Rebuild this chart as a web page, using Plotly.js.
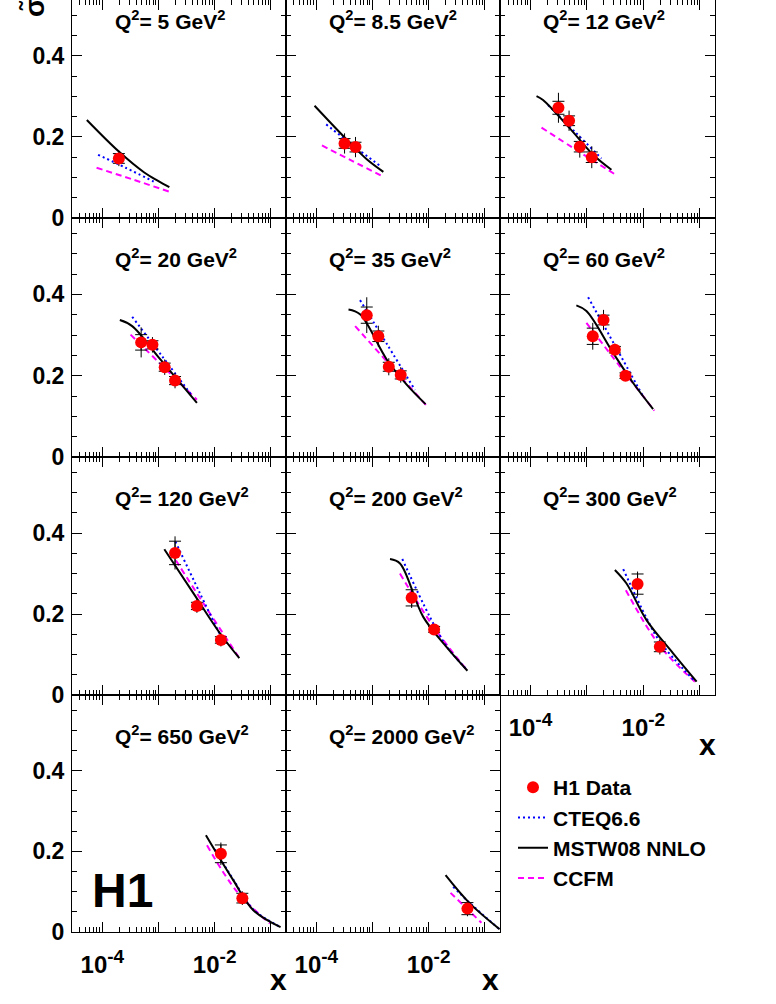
<!DOCTYPE html>
<html>
<head>
<meta charset="utf-8">
<script src="https://cdn.plot.ly/plotly-3.0.1.min.js"></script>
<style>
  body { margin: 0; background: #fff; }
  #plot { width: 776px; height: 1004px; }
</style>
</head>
<body>
<div id="plot"></div>
<script>
// Q2 bins, one panel each
const q2Labels = ['5', '8.5', '12', '20', '35', '60', '120', '200', '300', '650', '2000'];

// H1 data points per panel
const h1X = [
  [1.97e-4],
  [3.18e-4, 4.98e-4],
  [3.13e-4, 4.83e-4, 7.48e-4, 1.22e-3],
  [4.91e-4, 7.8e-4, 1.29e-3, 1.97e-3],
  [7.9e-4, 1.27e-3, 1.95e-3, 3.18e-3],
  [1.27e-3, 1.97e-3, 3.13e-3, 4.83e-3],
  [1.97e-3, 4.83e-3, 1.29e-2],
  [4.98e-3, 1.25e-2],
  [7.9e-3, 1.96e-2],
  [1.29e-2, 3.11e-2],
  [4.9e-2]
];
const h1Y = [
  [0.147],
  [0.184, 0.175],
  [0.272, 0.240, 0.176, 0.150],
  [0.282, 0.276, 0.221, 0.188],
  [0.349, 0.297, 0.222, 0.202],
  [0.297, 0.337, 0.264, 0.200],
  [0.351, 0.220, 0.136],
  [0.240, 0.162],
  [0.274, 0.119],
  [0.194, 0.084],
  [0.058]
];
const h1Stat = [
  [0.012],
  [0.012, 0.012],
  [0.016, 0.012, 0.013, 0.013],
  [0.019, 0.010, 0.010, 0.010],
  [0.020, 0.013, 0.011, 0.010],
  [0.020, 0.012, 0.008, 0.007],
  [0.029, 0.009, 0.008],
  [0.020, 0.007],
  [0.025, 0.012],
  [0.022, 0.012],
  [0.015]
];
const h1Tot = [
  [0.019],
  [0.025, 0.025],
  [0.037, 0.025, 0.027, 0.027],
  [0.037, 0.019, 0.019, 0.019],
  [0.044, 0.026, 0.021, 0.019],
  [0.033, 0.025, 0.015, 0.013],
  [0.041, 0.017, 0.016],
  [0.025, 0.013],
  [0.031, 0.019],
  [0.028, 0.017],
  [0.019]
];

// CTEQ6.6 prediction
const cteqX = [
  [8.4e-5, 2.6e-4, 8.2e-4],
  [1.5e-4, 4.5e-4, 1.42e-3],
  [2.05e-4, 6.1e-4, 1.81e-3],
  [3.4e-4, 1.16e-3, 3.94e-3],
  [6.0e-4, 1.86e-3, 5.7e-3],
  [1.05e-3, 3.24e-3, 9.9e-3],
  [2.0e-3, 5.4e-3, 1.43e-2],
  [3.39e-3, 1.05e-2, 2.07e-2, 4.9e-2],
  [4.4e-3, 1.14e-2, 1.96e-2, 7.9e-2],
  [1.0e-2, 2.15e-2, 4.88e-2, 0.141],
  [2.73e-2, 5.4e-2, 0.178]
];
const cteqY = [
  [0.156, 0.124, 0.090],
  [0.231, 0.179, 0.127],
  [0.279, 0.213, 0.147],
  [0.345, 0.248, 0.151],
  [0.386, 0.275, 0.165],
  [0.393, 0.271, 0.149],
  [0.379, 0.253, 0.132],
  [0.336, 0.193, 0.121, 0.061],
  [0.311, 0.190, 0.132, 0.036],
  [0.205, 0.130, 0.056, 0.014],
  [0.112, 0.072, 0.008]
];

// MSTW08 NNLO prediction
const mstwX = [
  [5.3e-5, 1.97e-4, 5.5e-4, 1.0e-3, 1.56e-3],
  [9.3e-5, 3.5e-4, 7.9e-4, 1.56e-3],
  [1.28e-4, 1.67e-4, 4.98e-4, 1.29e-3, 2.72e-3],
  [2.05e-4, 3.4e-4, 1.08e-3, 4.83e-3],
  [3.74e-4, 6.0e-4, 1.79e-3, 4.06e-3, 8.8e-3],
  [6.5e-4, 9.8e-4, 2.92e-3, 6.6e-3, 1.49e-2],
  [1.27e-3, 4.2e-3, 1.25e-2, 2.75e-2],
  [2.05e-3, 3.09e-3, 8.0e-3, 2.07e-2, 4.9e-2],
  [3.13e-3, 5.0e-3, 1.14e-2, 3.37e-2, 8.8e-2],
  [6.98e-3, 2.15e-2, 4.88e-2, 0.149],
  [2.0e-2, 5.4e-2, 0.183]
];
const mstwY = [
  [0.242, 0.164, 0.113, 0.091, 0.076],
  [0.277, 0.193, 0.145, 0.114],
  [0.301, 0.291, 0.221, 0.156, 0.119],
  [0.337, 0.322, 0.240, 0.133],
  [0.363, 0.351, 0.240, 0.178, 0.130],
  [0.373, 0.359, 0.256, 0.182, 0.118],
  [0.360, 0.251, 0.152, 0.091],
  [0.336, 0.325, 0.193, 0.119, 0.060],
  [0.309, 0.276, 0.185, 0.103, 0.033],
  [0.240, 0.128, 0.054, 0.012],
  [0.141, 0.071, 0.007]
];

// CCFM prediction
const ccfmX = [
  [7.9e-5, 3.5e-4, 1.56e-3],
  [1.26e-4, 4.5e-4, 1.56e-3],
  [1.57e-4, 7.0e-4, 3.13e-3],
  [3.18e-4, 1.24e-3, 4.83e-3],
  [4.91e-4, 2.19e-3, 9.8e-3],
  [9.8e-4, 3.9e-3, 1.57e-2],
  [1.63e-3, 6.6e-3, 2.64e-2],
  [3.08e-3, 1.2e-2, 4.7e-2],
  [4.9e-3, 2.0e-2, 8.2e-2],
  [7.3e-3, 2.5e-2, 9.6e-2],
  [2.45e-2, 8.7e-2]
];
const ccfmY = [
  [0.124, 0.095, 0.065],
  [0.179, 0.140, 0.102],
  [0.223, 0.165, 0.108],
  [0.301, 0.221, 0.141],
  [0.322, 0.222, 0.122],
  [0.330, 0.222, 0.114],
  [0.354, 0.222, 0.095],
  [0.300, 0.170, 0.063],
  [0.259, 0.120, 0.033],
  [0.215, 0.100, 0.021],
  [0.097, 0.023]
];

// axis ticks
const decadeVals = [1e-5, 1e-4, 1e-3, 1e-2, 1e-1];
const decadeText = ['', '10<sup><span style="font-size:19px">-4</span></sup>', '',
                    '10<sup><span style="font-size:19px">-2</span></sup>', ''];
const yTickVals = [0, 0.2, 0.4];

// page geometry (pixels)
const W = 776, H = 1004;
const mL = 72, mR = 61, mB = 72;
const plotW = W - mL - mR, plotH = H - mB;
const colLeft = [72, 286, 500, 715];
const rowTop = [0, 218, 457, 695, 932];
const rowRange = [0.538, 0.588, 0.588, 0.588];

function px2x(px) { return (px - mL) / plotW; }
function px2y(py) { return (plotH - py) / plotH; }

const fontFam = 'Liberation Sans, Arial, Helvetica, sans-serif';
const boldFont = (size) => ({ family: fontFam, size: size, color: '#000', weight: 'bold' });

let minorVals = [];
decadeVals.forEach(d => { for (let k = 2; k <= 9; k++) minorVals.push(d * k); });

let data = [];
let layout = {
  width: W, height: H,
  margin: { l: mL, r: mR, t: 0, b: mB },
  paper_bgcolor: '#fff', plot_bgcolor: '#fff',
  font: boldFont(20),
  showlegend: true,
  legend: {
    x: px2x(513), y: px2y(767), xanchor: 'left', yanchor: 'top',
    font: boldFont(21), bgcolor: 'rgba(0,0,0,0)', traceorder: 'normal',
    tracegroupgap: 0
  },
  annotations: []
};

const lineStyles = {
  cteq: { color: '#0000ff', width: 2, dash: '2px,3px' },
  mstw: { color: '#000000', width: 2, dash: 'solid' },
  ccfm: { color: '#ff00ff', width: 2, dash: '6px,4px' }
};

q2Labels.forEach((q2, i) => {
  const col = i % 3, row = Math.floor(i / 3);
  const n = i + 1;
  const xa = 'x' + (n === 1 ? '' : n), ya = 'y' + (n === 1 ? '' : n);
  const xKey = 'xaxis' + (n === 1 ? '' : n), yKey = 'yaxis' + (n === 1 ? '' : n);
  const bottomRow = (i >= 9) || (i === 8);

  layout[xKey] = {
    type: 'log', range: [-4.54, -0.73],
    domain: [px2x(colLeft[col]), px2x(colLeft[col + 1])],
    anchor: ya,
    tickmode: 'array', tickvals: decadeVals, ticktext: decadeText,
    showticklabels: bottomRow,
    ticks: 'inside', ticklen: 10, tickwidth: 1, tickcolor: '#000',
    minor: { tickmode: 'array', tickvals: minorVals, ticks: 'inside', ticklen: 5, tickwidth: 1, tickcolor: '#000' },
    showline: true, mirror: 'ticks', linecolor: '#000', linewidth: 1,
    showgrid: false, zeroline: false,
    tickfont: boldFont(24), ticklabelstandoff: 11
  };
  layout[yKey] = {
    range: [0, rowRange[row]],
    domain: [px2y(rowTop[row + 1]), px2y(rowTop[row])],
    anchor: xa,
    tickmode: 'array', tickvals: yTickVals,
    showticklabels: col === 0,
    ticks: 'inside', ticklen: 10, tickwidth: 1, tickcolor: '#000',
    minor: { dtick: 0.05, tick0: 0, ticks: 'inside', ticklen: 5, tickwidth: 1, tickcolor: '#000' },
    showline: true, mirror: 'ticks', linecolor: '#000', linewidth: 1,
    showgrid: false, zeroline: false,
    tickfont: boldFont(23), ticklabelstandoff: 2
  };

  const first = i === 0;
  data.push({
    x: ccfmX[i], y: ccfmY[i], xaxis: xa, yaxis: ya, type: 'scatter', mode: 'lines',
    line: Object.assign({ shape: 'spline', smoothing: 1 }, lineStyles.ccfm),
    name: 'CCFM', legendgroup: 'ccfm', showlegend: first, legendrank: 4, hoverinfo: 'skip'
  });
  data.push({
    x: cteqX[i], y: cteqY[i], xaxis: xa, yaxis: ya, type: 'scatter', mode: 'lines',
    line: Object.assign({ shape: 'spline', smoothing: 1 }, lineStyles.cteq),
    name: 'CTEQ6.6', legendgroup: 'cteq', showlegend: first, legendrank: 2, hoverinfo: 'skip'
  });
  data.push({
    x: mstwX[i], y: mstwY[i], xaxis: xa, yaxis: ya, type: 'scatter', mode: 'lines',
    line: Object.assign({ shape: 'spline', smoothing: 1 }, lineStyles.mstw),
    name: 'MSTW08 NNLO', legendgroup: 'mstw', showlegend: first, legendrank: 3, hoverinfo: 'skip'
  });
  // total errors (plain bar) and stat errors (with ticks)
  data.push({
    x: h1X[i], y: h1Y[i], xaxis: xa, yaxis: ya, type: 'scatter', mode: 'markers',
    marker: { size: 1, color: 'rgba(0,0,0,0)' },
    error_y: { type: 'data', array: h1Tot[i], color: '#000', thickness: 1, width: 0 },
    showlegend: false, hoverinfo: 'skip'
  });
  data.push({
    x: h1X[i], y: h1Y[i], xaxis: xa, yaxis: ya, type: 'scatter', mode: 'markers',
    marker: { size: 1, color: 'rgba(0,0,0,0)' },
    error_y: { type: 'data', array: h1Stat[i], color: '#000', thickness: 1, width: 6 },
    showlegend: false, hoverinfo: 'skip'
  });
  data.push({
    x: h1X[i], y: h1Y[i], xaxis: xa, yaxis: ya, type: 'scatter', mode: 'markers',
    marker: { size: 12, color: '#ff0000', symbol: 'circle' },
    name: 'H1 Data', legendgroup: 'h1', showlegend: first, legendrank: 1
  });

  // panel label
  layout.annotations.push({
    xref: 'paper', yref: 'paper',
    x: px2x(colLeft[col] + 41), y: px2y((row === 0 ? -20 : rowTop[row]) + 40),
    xanchor: 'left', yanchor: 'middle', showarrow: false,
    text: 'Q<sup>2</sup>= ' + q2 + ' GeV<sup>2</sup>', font: boldFont(21)
  });
});

// x axis titles
[[278, 980], [490, 980], [707, 744]].forEach(p => {
  layout.annotations.push({
    xref: 'paper', yref: 'paper', x: px2x(p[0]), y: px2y(p[1]),
    xanchor: 'center', yanchor: 'middle', showarrow: false,
    text: 'x', font: boldFont(30)
  });
});

// y axis title (cut off at top of the page)
layout.annotations.push({
  xref: 'paper', yref: 'paper', x: px2x(35), y: px2y(8),
  xanchor: 'center', yanchor: 'middle', showarrow: false, textangle: -90,
  text: 'σ̃', font: boldFont(28)
});

// H1 logo
layout.annotations.push({
  xref: 'paper', yref: 'paper', x: px2x(122), y: px2y(890),
  xanchor: 'center', yanchor: 'middle', showarrow: false,
  text: 'H1', font: boldFont(48)
});

Plotly.newPlot('plot', data, layout, { displayModeBar: false, staticPlot: true });
</script>
</body>
</html>
